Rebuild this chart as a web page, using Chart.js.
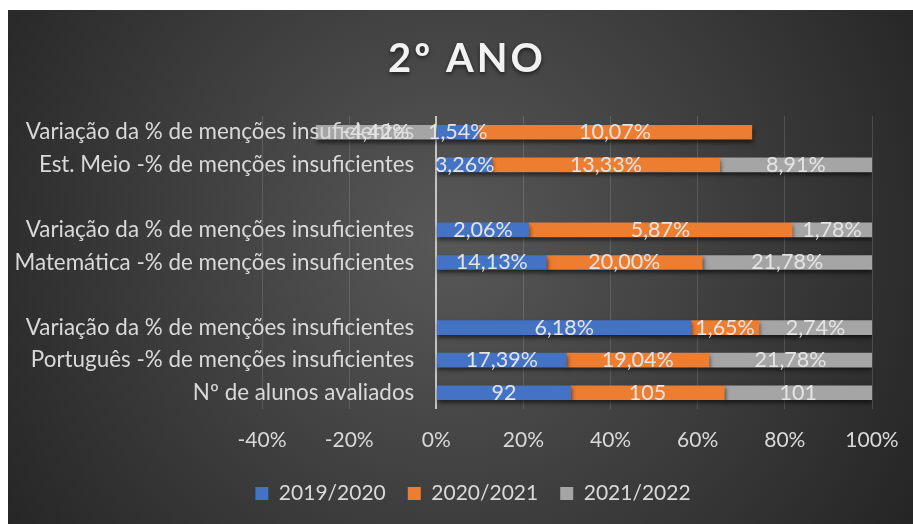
<!DOCTYPE html>
<html lang="pt">
<head>
<meta charset="utf-8">
<title>2º ANO</title>
<script src="https://cdn.jsdelivr.net/npm/chart.js@4.4.1/dist/chart.umd.min.js"></script>
<style>
  html, body { margin: 0; padding: 0; background: #fff; }
  canvas { display: block; }
</style>
</head>
<body>
<canvas id="grafico" width="913" height="524"></canvas>
<script>
const titulo = '2º ANO';

const categorias = [
  'Variação da % de menções insuficientes',
  'Est. Meio -% de menções insuficientes',
  '',
  'Variação da % de menções insuficientes',
  'Matemática -% de menções insuficientes',
  '',
  'Variação da % de menções insuficientes',
  'Português -% de menções insuficientes',
  'Nº de alunos avaliados'
];

const anos = ['2019/2020', '2020/2021', '2021/2022'];

const valores2019 = [1.54, 3.26, null, 2.06, 14.13, null, 6.18, 17.39, 92];
const valores2020 = [10.07, 13.33, null, 5.87, 20.00, null, 1.65, 19.04, 105];
const valores2021 = [-4.42, 8.91, null, 1.78, 21.78, null, 2.74, 21.78, 101];

// a última linha é contagem de alunos, o resto são percentagens
const emPercentagem = [true, true, true, true, true, true, true, true, false];

const ticksX = [-40, -20, 0, 20, 40, 60, 80, 100];

const cores = ['#4472C4', '#ED7D31', '#A5A5A5'];

// barras a 100%: cada valor dividido pela soma dos valores absolutos da linha
const series = [valores2019, valores2020, valores2021];
const totais = categorias.map((_, i) => series.reduce((s, arr) => s + Math.abs(arr[i] || 0), 0));
const percentagens = series.map(arr => arr.map((v, i) => v == null ? null : v / totais[i] * 100));

function formatar(v, i) {
  if (!emPercentagem[i]) return String(v);
  return v.toFixed(2).replace('.', ',') + '%';
}

Chart.defaults.font.family = 'Lato';
Chart.defaults.font.size = 21;
Chart.defaults.color = '#d9d9d9';

const fundo = {
  id: 'fundo',
  beforeDraw(chart) {
    const ctx = chart.ctx;
    ctx.save();
    ctx.fillStyle = '#fff';
    ctx.fillRect(0, 0, chart.width, chart.height);
    const g = ctx.createRadialGradient(450, 240, 0, 450, 240, 560);
    g.addColorStop(0, '#585858');
    g.addColorStop(1, '#232323');
    ctx.fillStyle = g;
    ctx.fillRect(8, 10, chart.width - 8, chart.height - 10);

    ctx.font = 'bold 40px Lato';
    ctx.letterSpacing = '3px';
    ctx.textAlign = 'center';
    ctx.textBaseline = 'middle';
    ctx.shadowColor = 'rgba(0,0,0,0.6)';
    ctx.shadowOffsetY = 2;
    ctx.shadowBlur = 4;
    ctx.fillStyle = '#f2f2f2';
    ctx.fillText(titulo, 467, 59);
    ctx.restore();
  }
};

const sombra = {
  id: 'sombra',
  beforeDatasetsDraw(chart) {
    const ctx = chart.ctx;
    ctx.save();
    ctx.shadowColor = 'rgba(0,0,0,0.55)';
    ctx.shadowOffsetX = 1;
    ctx.shadowOffsetY = 3;
    ctx.shadowBlur = 4;
  },
  afterDatasetsDraw(chart) {
    chart.ctx.restore();
  }
};

const rotulos = {
  id: 'rotulos',
  afterDatasetsDraw(chart) {
    const ctx = chart.ctx;
    const x = chart.scales.x;
    const y = chart.scales.y;
    ctx.save();
    ctx.textBaseline = 'middle';

    // nomes das categorias junto ao eixo do 0
    ctx.font = '22.4px Lato';
    ctx.fillStyle = '#d9d9d9';
    ctx.textAlign = 'right';
    const x0 = x.getPixelForValue(0);
    categorias.forEach((c, i) => {
      if (c) ctx.fillText(c, x0 - 22, y.getPixelForValue(i));
    });

    // valores dentro das barras
    ctx.font = '21.5px Lato';
    ctx.fillStyle = '#e4e4e4';
    ctx.textAlign = 'center';
    series.forEach((arr, d) => {
      const meta = chart.getDatasetMeta(d);
      meta.data.forEach((bar, i) => {
        if (arr[i] == null) return;
        const p = bar.getProps(['x', 'y', 'base'], true);
        ctx.fillText(formatar(arr[i], i), (p.x + p.base) / 2, p.y);
      });
    });
    ctx.restore();
  }
};

new Chart(document.getElementById('grafico'), {
  type: 'bar',
  data: {
    labels: categorias,
    datasets: anos.map((a, d) => ({
      label: a,
      data: percentagens[d],
      backgroundColor: cores[d],
      borderWidth: 0,
      barThickness: 14
    }))
  },
  options: {
    indexAxis: 'y',
    responsive: false,
    animation: false,
    layout: { padding: { left: 74, right: 41, top: 116, bottom: 10 } },
    scales: {
      x: {
        stacked: true,
        min: ticksX[0],
        max: ticksX[ticksX.length - 1],
        afterBuildTicks: axis => { axis.ticks = ticksX.map(v => ({ value: v })); },
        afterFit: s => {
          s.height = 52;
          s.paddingLeft = 20;
          s.paddingRight = 20;
        },
        ticks: {
          padding: 19,
          color: '#d9d9d9',
          callback: v => v + '%'
        },
        grid: {
          drawTicks: false,
          color: c => c.tick && c.tick.value === 0 ? '#c4c4c4' : 'rgba(255,255,255,0.14)',
          lineWidth: c => c.tick && c.tick.value === 0 ? 2 : 1
        },
        border: { display: false }
      },
      y: {
        stacked: true,
        ticks: { display: false },
        grid: { display: false },
        border: { display: false },
        afterFit: s => { s.width = 188; }
      }
    },
    plugins: {
      legend: {
        position: 'bottom',
        labels: {
          color: '#d9d9d9',
          boxWidth: 13,
          boxHeight: 13,
          padding: 22
        }
      },
      title: { display: false },
      tooltip: { enabled: false }
    }
  },
  plugins: [fundo, sombra, rotulos]
});
</script>
</body>
</html>
